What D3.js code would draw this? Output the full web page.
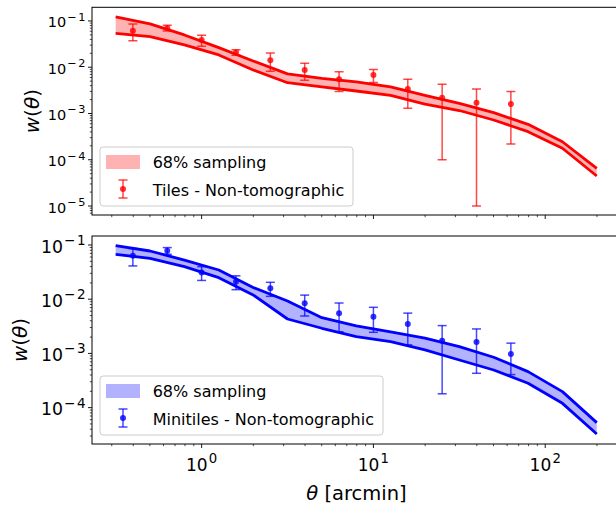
<!DOCTYPE html>
<html><head><meta charset="utf-8">
<script src="https://cdn.jsdelivr.net/npm/d3@7"></script>
<style>
html,body{margin:0;padding:0;background:#fff;}
svg{display:block;font-family:"DejaVu Sans",sans-serif;}
</style></head>
<body><svg id="chart" width="616" height="508"></svg>
<script>
// ---- data ----
const bandTheta = [0.316, 0.501, 0.794, 1.259, 1.995, 3.162, 5.012, 7.943, 12.59, 19.95, 31.62, 50.12, 79.43, 125.9, 199.5];
const pointTheta = [0.398, 0.631, 1.0, 1.585, 2.512, 3.981, 6.310, 10.0, 15.85, 25.12, 39.81, 63.10];

const tilesUpper = [0.122, 0.0861, 0.0498, 0.0265, 0.01365, 0.0072, 0.00571, 0.0048, 0.00374, 0.00245, 0.00166, 0.00104, 0.000583, 0.000245, 0.000065];
const tilesLower = [0.0537, 0.0458, 0.0303, 0.0184, 0.00873, 0.00463, 0.00374, 0.00306, 0.00245, 0.0016, 0.00116, 0.000723, 0.000404, 0.000177, 0.0000446];
const tilesW   = [0.0617, 0.0706, 0.0388, 0.021, 0.0142, 0.0087, 0.0055, 0.0068, 0.0034, 0.0022, 0.0017, 0.0016];
const tilesErr = [0.0244, 0.010, 0.0105, 0.0028, 0.006, 0.0035, 0.0025, 0.0021, 0.0021, 0.0021, 0.00169, 0.00138];

const miniUpper = [0.0971, 0.0775, 0.0528, 0.0346, 0.01644, 0.00927, 0.00456, 0.00321, 0.00249, 0.00191, 0.00133, 0.000849, 0.000461, 0.000197, 0.0000528];
const miniLower = [0.0674, 0.0569, 0.0398, 0.0250, 0.01197, 0.00431, 0.00291, 0.00204, 0.00165, 0.00116, 0.000757, 0.000495, 0.000282, 0.000120, 0.0000327];
const miniW   = [0.0636, 0.0785, 0.031, 0.021, 0.0159, 0.0084, 0.00551, 0.00477, 0.00349, 0.00172, 0.00163, 0.000977];
const miniErr = [0.0225, 0.011, 0.0088, 0.006, 0.0046, 0.0035, 0.003, 0.00232, 0.00205, 0.00154, 0.0012, 0.00057];

const xTickExps = [0, 1, 2];
const bandLabel = "68% sampling";
const tilesLabel = "Tiles - Non-tomographic";
const miniLabel = "Minitiles - Non-tomographic";

// ---- layout ----
const svg = d3.select("#chart");
const X0 = 92, X1 = 621;
const x = d3.scaleLog().domain([Math.pow(10,-0.638), Math.pow(10,2.441)]).range([X0, X1]);

const panels = [
  {top:7.3, bottom:215, dom:[Math.pow(10,-5.194), Math.pow(10,-0.705)], yExps:[-5,-4,-3,-2,-1],
   upper:tilesUpper, lower:tilesLower, w:tilesW, err:tilesErr, color:"#ff0000", fill:"rgba(255,0,0,0.3)",
   label:tilesLabel, fs:14.5, ylabX:32, xlabels:false, leg:{x:100,y:147,w:253}},
  {top:236, bottom:444, dom:[Math.pow(10,-4.671), Math.pow(10,-0.834)], yExps:[-4,-3,-2,-1],
   upper:miniUpper, lower:miniLower, w:miniW, err:miniErr, color:"#0000ff", fill:"rgba(0,0,255,0.3)",
   label:miniLabel, fs:17.3, ylabX:20, xlabels:true, leg:{x:100,y:376,w:283}}
];

function supLabel(sel, exp, fs){
  sel.append("tspan").text("10");
  sel.append("tspan").attr("font-size", fs*0.78).attr("dx", 1.2).attr("dy", -fs*0.45)
     .attr("letter-spacing", exp < 0 ? 1.5 : 0)
     .text(exp < 0 ? "\u2212" + Math.abs(exp) : String(exp));
}

panels.forEach((p, pi) => {
  const y = d3.scaleLog().domain(p.dom).range([p.bottom, p.top]);
  const g = svg.append("g");
  const clipId = "clip" + pi;
  svg.append("clipPath").attr("id", clipId).append("rect")
     .attr("x", X0).attr("y", p.top).attr("width", X1 - X0).attr("height", p.bottom - p.top);
  const plot = g.append("g").attr("clip-path", `url(#${clipId})`);

  const band = bandTheta.map((t,i) => ({t, u:p.upper[i], l:p.lower[i]}));
  plot.append("path").datum(band)
    .attr("d", d3.area().x(d => x(d.t)).y0(d => y(d.l)).y1(d => y(d.u)))
    .attr("fill", p.fill).attr("stroke", "none");
  ["u","l"].forEach(k => {
    plot.append("path").datum(band)
      .attr("d", d3.line().x(d => x(d.t)).y(d => y(d[k])))
      .attr("fill", "none").attr("stroke", p.color).attr("stroke-width", 2.8)
      .attr("stroke-linejoin", "round");
  });

  const pts = pointTheta.map((t,i) => ({t, v:p.w[i], e:p.err[i]}));
  const eb = plot.append("g").attr("stroke", p.color).attr("stroke-opacity", 0.72).attr("stroke-width", 1.5);
  pts.forEach(d => {
    const hi = y(d.v + d.e), lo = y(Math.max(d.v - d.e, 1e-9)), cx = x(d.t);
    eb.append("line").attr("x1", cx).attr("x2", cx).attr("y1", hi).attr("y2", lo);
    eb.append("line").attr("x1", cx-4.5).attr("x2", cx+4.5).attr("y1", hi).attr("y2", hi);
    eb.append("line").attr("x1", cx-4.5).attr("x2", cx+4.5).attr("y1", lo).attr("y2", lo);
  });
  plot.append("g").selectAll("circle").data(pts).join("circle")
    .attr("cx", d => x(d.t)).attr("cy", d => y(d.v)).attr("r", 3)
    .attr("fill", p.color).attr("fill-opacity", 0.8);

  // frame
  g.append("rect").attr("x", X0).attr("y", p.top).attr("width", X1 - X0).attr("height", p.bottom - p.top)
    .attr("fill", "none").attr("stroke", "#000").attr("stroke-width", 1);

  // y ticks
  const [ymin, ymax] = p.dom;
  const yMinor = [];
  for (let e = -7; e <= 0; e++) for (let k = 2; k <= 9; k++) {
    const v = k * Math.pow(10, e);
    if (v >= ymin && v <= ymax) yMinor.push(v);
  }
  g.append("g").selectAll("line").data(yMinor).join("line")
    .attr("x1", X0 - 2.2).attr("x2", X0).attr("y1", d => y(d)).attr("y2", d => y(d))
    .attr("stroke", "#000").attr("stroke-width", 0.7);
  g.append("g").selectAll("line").data(p.yExps).join("line")
    .attr("x1", X0 - 4).attr("x2", X0).attr("y1", d => y(Math.pow(10,d))).attr("y2", d => y(Math.pow(10,d)))
    .attr("stroke", "#000").attr("stroke-width", 0.9);
  p.yExps.forEach(e => {
    const t = g.append("text").attr("x", 87).attr("y", y(Math.pow(10,e)) + p.fs*0.45)
      .attr("text-anchor", "end").attr("font-size", p.fs).attr("fill", "#000");
    supLabel(t, e, p.fs);
  });

  // x ticks
  const [xmin, xmax] = x.domain();
  const xMinor = [];
  for (let e = -1; e <= 2; e++) for (let k = 2; k <= 9; k++) {
    const v = k * Math.pow(10, e);
    if (v >= xmin && v <= xmax) xMinor.push(v);
  }
  g.append("g").selectAll("line").data(xMinor).join("line")
    .attr("x1", d => x(d)).attr("x2", d => x(d)).attr("y1", p.bottom).attr("y2", p.bottom + 2.2)
    .attr("stroke", "#000").attr("stroke-width", 0.7);
  g.append("g").selectAll("line").data(xTickExps).join("line")
    .attr("x1", d => x(Math.pow(10,d))).attr("x2", d => x(Math.pow(10,d))).attr("y1", p.bottom).attr("y2", p.bottom + 4)
    .attr("stroke", "#000").attr("stroke-width", 0.9);
  if (p.xlabels) {
    xTickExps.forEach(e => {
      const t = g.append("text").attr("x", x(Math.pow(10,e))).attr("y", 471)
        .attr("text-anchor", "middle").attr("font-size", 17).attr("fill", "#000");
      supLabel(t, e, 17);
    });
    g.append("text").attr("x", (X0 + X1)/2).attr("y", 500).attr("text-anchor", "middle")
      .attr("font-size", 19.5).attr("fill", "#000")
      .html('<tspan font-style="italic">\u03b8</tspan> [arcmin]');
  }

  // y label
  g.append("text").attr("transform", `translate(${p.ylabX},${(p.top+p.bottom)/2}) rotate(-90)`)
    .attr("text-anchor", "middle").attr("dy", "0.35em").attr("font-size", 20).attr("fill", "#000")
    .html('<tspan font-style="italic">w</tspan>(<tspan font-style="italic">\u03b8</tspan>)');

  // legend
  const L = p.leg;
  const lg = g.append("g");
  lg.append("rect").attr("x", L.x).attr("y", L.y).attr("width", L.w).attr("height", 59).attr("rx", 3)
    .attr("fill", "#fff").attr("fill-opacity", 0.8).attr("stroke", "#cccccc").attr("stroke-width", 1);
  lg.append("rect").attr("x", L.x + 6).attr("y", L.y + 8).attr("width", 34).attr("height", 14)
    .attr("fill", p.fill);
  lg.append("text").attr("x", L.x + 52.7).attr("y", L.y + 20.5).attr("font-size", 16).attr("fill", "#000").text(bandLabel);
  const ex = L.x + 23;
  const le = lg.append("g").attr("stroke", p.color).attr("stroke-opacity", 0.72).attr("stroke-width", 1.5);
  le.append("line").attr("x1", ex).attr("x2", ex).attr("y1", L.y + 33).attr("y2", L.y + 51);
  le.append("line").attr("x1", ex-4.5).attr("x2", ex+4.5).attr("y1", L.y + 33).attr("y2", L.y + 33);
  le.append("line").attr("x1", ex-4.5).attr("x2", ex+4.5).attr("y1", L.y + 51).attr("y2", L.y + 51);
  lg.append("circle").attr("cx", ex).attr("cy", L.y + 42).attr("r", 3).attr("fill", p.color).attr("fill-opacity", 0.8);
  lg.append("text").attr("x", L.x + 52.7).attr("y", L.y + 48.5).attr("font-size", 16).attr("fill", "#000").text(p.label);
});
</script></body></html>
